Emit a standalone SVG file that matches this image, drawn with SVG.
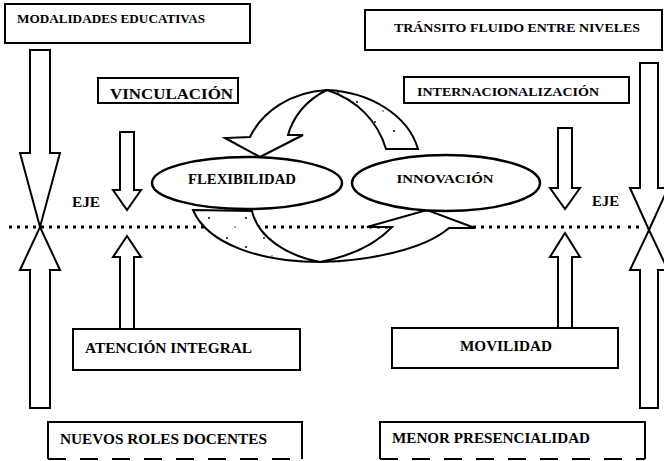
<svg xmlns="http://www.w3.org/2000/svg" width="664" height="461" viewBox="0 0 664 461">
<defs>
<style>
.box{fill:#fff;stroke:#000;stroke-width:2}
.open{fill:none;stroke:#000;stroke-width:2}
.arr{fill:#fff;stroke:#000;stroke-width:2;stroke-linejoin:miter}
.stip{fill:url(#dots);stroke:#000;stroke-width:2}
.ell{fill:#fff;stroke:#000;stroke-width:2.5}
.axis{fill:none;stroke:#000;stroke-width:3;stroke-dasharray:3 5}
text{font-family:"Liberation Serif","Times New Roman",serif;font-weight:bold;fill:#000}
</style>
<pattern id="dots" width="37" height="29" patternUnits="userSpaceOnUse">
<rect width="37" height="29" fill="#fff"/>
<circle cx="5" cy="6" r="0.9" fill="#000"/>
<circle cx="24" cy="15" r="1" fill="#000"/>
<circle cx="13" cy="24" r="0.7" fill="#000"/>
</pattern>
</defs>
<rect width="664" height="461" fill="#fff"/>

<g id="connectors">
<path class="axis" d="M9,227 H622 M628,227 H640"/>
<!-- left big double arrow -->
<polygon class="arr" points="30,50 50,50 50,153 60,153 40,227 20,153 30,153"/>
<polygon class="arr" points="40,227 60,270 50,270 50,408 30,408 30,270 20,270"/>
<!-- right big double arrow -->
<polygon class="arr" points="640,63 658,63 658,188 668,188 649,230 630,188 640,188"/>
<polygon class="arr" points="649,230 668,270 658,270 658,408 640,408 640,270 630,270"/>
<!-- left small arrows -->
<polygon class="arr" points="120,132 134,132 134,190 141,190 127,210 113,190 120,190"/>
<polygon class="arr" points="127,236 141,257 134,257 134,330 120,330 120,257 113,257"/>
<!-- right small arrows -->
<polygon class="arr" points="558,128 572,128 572,188 580,188 565,209 550,188 558,188"/>
<polygon class="arr" points="565,233 580,257 572,257 572,328 558,328 558,257 550,257"/>
<!-- top curved arrow (innovation to flexibility) -->
<path class="stip" d="M327,90 C370,92 408,115 418,149 L386,149 C378,122 358,100 327,90 Z"/>
<path class="arr" d="M327,90 C290,92 262,112 250,137 L225,138 L260,157 L303,135 L288,135 C293,117 306,100 327,90 Z"/>
<!-- bottom curved arrow (flexibility to innovation) -->
<path class="stip" d="M193,210 L252,211 C258,238 288,256 320,262 C262,262 208,245 193,210 Z"/>
<path class="arr" d="M320,262 C370,261 425,249 449,228 L475,228 L427,210 L367,227 L392,227 C374,246 346,257 320,262 Z"/>
</g>

<g id="ellipse-flexibilidad">
<ellipse class="ell" cx="247" cy="183" rx="95" ry="26"/>
<text x="242" y="184" font-size="14" text-anchor="middle" textLength="108" lengthAdjust="spacingAndGlyphs">FLEXIBILIDAD</text>
</g>
<g id="ellipse-innovacion">
<ellipse class="ell" cx="446" cy="183" rx="94" ry="28"/>
<text x="445" y="183" font-size="13" text-anchor="middle" textLength="97" lengthAdjust="spacingAndGlyphs">INNOVACIÓN</text>
</g>

<g id="box-modalidades">
<rect class="box" x="5" y="4" width="245" height="39"/>
<text x="17" y="23" font-size="12.5" textLength="188" lengthAdjust="spacingAndGlyphs">MODALIDADES EDUCATIVAS</text>
</g>
<g id="box-transito">
<rect class="box" x="365" y="10" width="297" height="40"/>
<text x="394" y="32" font-size="13.5" textLength="246" lengthAdjust="spacingAndGlyphs">TRÁNSITO FLUIDO ENTRE NIVELES</text>
</g>
<g id="box-vinculacion">
<rect class="box" x="98" y="78" width="140" height="25"/>
<text x="110" y="99" font-size="14" textLength="123" lengthAdjust="spacingAndGlyphs">VINCULACIÓN</text>
</g>
<g id="box-internacionalizacion">
<rect class="box" x="404" y="77" width="225" height="26"/>
<text x="417" y="96" font-size="13" textLength="182" lengthAdjust="spacingAndGlyphs">INTERNACIONALIZACIÓN</text>
</g>
<g id="label-eje-left">
<text x="72" y="207" font-size="15" textLength="28" lengthAdjust="spacingAndGlyphs">EJE</text>
</g>
<g id="label-eje-right">
<text x="592" y="206" font-size="15" textLength="27" lengthAdjust="spacingAndGlyphs">EJE</text>
</g>
<g id="box-atencion">
<rect class="box" x="73" y="329" width="227" height="41"/>
<text x="85" y="353" font-size="15" textLength="167" lengthAdjust="spacingAndGlyphs">ATENCIÓN INTEGRAL</text>
</g>
<g id="box-movilidad">
<rect class="box" x="392" y="328" width="226" height="40"/>
<text x="506" y="351" font-size="15" text-anchor="middle" textLength="92" lengthAdjust="spacingAndGlyphs">MOVILIDAD</text>
</g>
<g id="box-nuevos-roles">
<rect x="48" y="422" width="254" height="37" fill="#fff"/>
<path class="open" d="M48,459 V422 H302 V459"/>
<path class="open" d="M48,459 H302" stroke-dasharray="18 14"/>
<text x="60" y="444" font-size="14" textLength="207" lengthAdjust="spacingAndGlyphs">NUEVOS ROLES DOCENTES</text>
</g>
<g id="box-menor-presencialidad">
<rect x="380" y="422" width="265" height="37" fill="#fff"/>
<path class="open" d="M380,459 V422 H645 V459"/>
<path class="open" d="M380,459 H645" stroke-dasharray="18 14"/>
<text x="392" y="443" font-size="14" textLength="198" lengthAdjust="spacingAndGlyphs">MENOR PRESENCIALIDAD</text>
</g>
</svg>
